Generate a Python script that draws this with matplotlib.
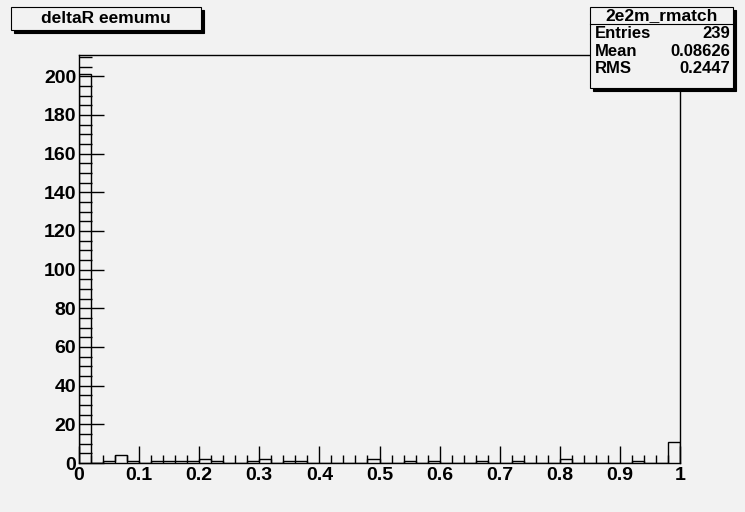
import numpy as np
import matplotlib.pyplot as plt
from matplotlib.patches import Rectangle
from matplotlib.ticker import MultipleLocator, FuncFormatter

plt.rcParams['font.family'] = ['Liberation Sans', 'DejaVu Sans']
plt.rcParams['font.weight'] = 'bold'

# histogram 2e2m_rmatch: 50 bins from 0 to 1
edges = np.linspace(0, 1, 51)
counts = np.zeros(50)
filled = {0: 201, 2: 1, 3: 4, 4: 1, 6: 1, 7: 1, 8: 1, 9: 1, 10: 2, 11: 1,
          14: 1, 15: 2, 17: 1, 18: 1, 24: 2, 27: 1, 29: 1, 33: 1, 36: 1,
          40: 2, 46: 1, 49: 11}
for k, v in filled.items():
    counts[k] = v

title = 'deltaR eemumu'
stat_name = '2e2m_rmatch'
stat_rows = [('Entries', '239'), ('Mean', '0.08626'), ('RMS', '0.2447')]

bg = '#f2f2f2'
fig = plt.figure(figsize=(7.45, 5.12), dpi=100, facecolor=bg)
W, H = 745, 512
ax = fig.add_axes([79 / W, 1 - 463 / H, (680 - 79) / W, (463 - 55) / H])
ax.set_facecolor(bg)

ax.stairs(counts, edges, color='black', linewidth=1.0)
ax.set_xlim(0, 1)
ax.set_ylim(0, 211)

ax.xaxis.set_major_locator(MultipleLocator(0.1))
ax.xaxis.set_minor_locator(MultipleLocator(0.02))
ax.xaxis.set_major_formatter(FuncFormatter(lambda v, p: '%g' % round(v, 2)))
ax.yaxis.set_major_locator(MultipleLocator(20))
ax.yaxis.set_minor_locator(MultipleLocator(5))
ax.tick_params(axis='x', which='major', direction='in', length=12, width=1,
               labelsize=14, pad=3, top=False)
ax.tick_params(axis='x', which='minor', direction='in', length=6, width=1, top=False)
ax.tick_params(axis='y', which='major', direction='in', length=18, width=1,
               labelsize=14, pad=2, right=False)
ax.tick_params(axis='y', which='minor', direction='in', length=9, width=1, right=False)
for lab in ax.get_xticklabels() + ax.get_yticklabels():
    lab.set_fontweight('bold')
for s in ax.spines.values():
    s.set_color('black')
    s.set_linewidth(1.0)


def box(x0, y0, x1, y1):
    # pixel coords (top-left origin), with a ROOT-style shadow
    fx = lambda x: x / W
    fy = lambda y: 1 - y / H
    fig.patches.append(Rectangle((fx(x0 + 3), fy(y1 + 3)), (x1 - x0) / W, (y1 - y0) / H,
                                 transform=fig.transFigure, facecolor='black',
                                 edgecolor='black', linewidth=0.8, zorder=5))
    fig.patches.append(Rectangle((fx(x0), fy(y1)), (x1 - x0) / W, (y1 - y0) / H,
                                 transform=fig.transFigure, facecolor=bg,
                                 edgecolor='black', linewidth=0.8, zorder=6))


# title box
box(11, 7, 201, 30)
fig.text(106 / W, 1 - 18.5 / H, title, ha='center', va='center', fontsize=12.5,
         fontweight='bold', zorder=7)

# stats box
box(590, 7, 733, 88)
fig.lines.append(plt.Line2D([590 / W, 733 / W], [1 - 24 / H, 1 - 24 / H],
                            transform=fig.transFigure, color='black', linewidth=0.8, zorder=7))
fig.text(661.5 / W, 1 - 15.5 / H, stat_name, ha='center', va='center', fontsize=12.5,
         fontweight='bold', zorder=7)
for i, (k, v) in enumerate(stat_rows):
    y = 1 - (33.5 + i * 17.5) / H
    fig.text(595 / W, y, k, ha='left', va='center', fontsize=12, fontweight='bold', zorder=7)
    fig.text(730 / W, y, v, ha='right', va='center', fontsize=12, fontweight='bold', zorder=7)

fig.savefig('out.png', dpi=100, facecolor=bg)
